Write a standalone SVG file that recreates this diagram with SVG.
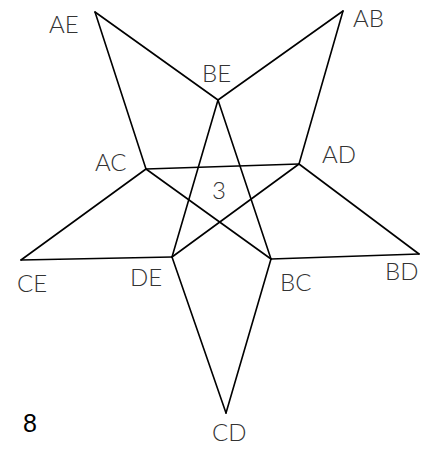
<svg xmlns="http://www.w3.org/2000/svg" width="435" height="454" viewBox="0 0 435 454">
<style>
.e{stroke:#000;stroke-width:1.6;fill:none;stroke-linecap:round}
.l{font-family:Lato,"DejaVu Sans",sans-serif;font-weight:300;font-size:24px;fill:#333}
.n{font-family:"Liberation Sans",Arial,sans-serif;font-size:25px;fill:#000}
</style>
<rect width="435" height="454" fill="#fff"/>
<g id="edges">
<line class="e" x1="95" y1="12" x2="218" y2="100"/>
<line class="e" x1="95" y1="12" x2="146" y2="169"/>
<line class="e" x1="343" y1="11" x2="218" y2="100"/>
<line class="e" x1="343" y1="11" x2="299" y2="164"/>
<line class="e" x1="146" y1="169" x2="299" y2="164"/>
<line class="e" x1="146" y1="169" x2="271" y2="259"/>
<line class="e" x1="146" y1="169" x2="21" y2="260"/>
<line class="e" x1="299" y1="164" x2="172" y2="257"/>
<line class="e" x1="299" y1="164" x2="419" y2="254"/>
<line class="e" x1="218" y1="100" x2="172" y2="257"/>
<line class="e" x1="218" y1="100" x2="271" y2="259"/>
<line class="e" x1="172" y1="257" x2="21" y2="260"/>
<line class="e" x1="172" y1="257" x2="226" y2="413"/>
<line class="e" x1="271" y1="259" x2="419" y2="254"/>
<line class="e" x1="271" y1="259" x2="226" y2="413"/>
</g>
<g id="AE"><text class="l" x="49" y="33">AE</text></g>
<g id="AB"><text class="l" x="353" y="27">AB</text></g>
<g id="BE"><text class="l" x="202" y="82">BE</text></g>
<g id="AC"><text class="l" x="95" y="171">AC</text></g>
<g id="AD"><text class="l" x="322" y="163">AD</text></g>
<g id="CE"><text class="l" x="17" y="292">CE</text></g>
<g id="DE"><text class="l" x="130" y="286">DE</text></g>
<g id="BC"><text class="l" x="280" y="291">BC</text></g>
<g id="BD"><text class="l" x="385" y="280">BD</text></g>
<g id="CD"><text class="l" x="212" y="441">CD</text></g>
<g id="face"><text class="l" x="212" y="199">3</text></g>
<g id="count"><text class="n" x="23" y="432">8</text></g>
</svg>
